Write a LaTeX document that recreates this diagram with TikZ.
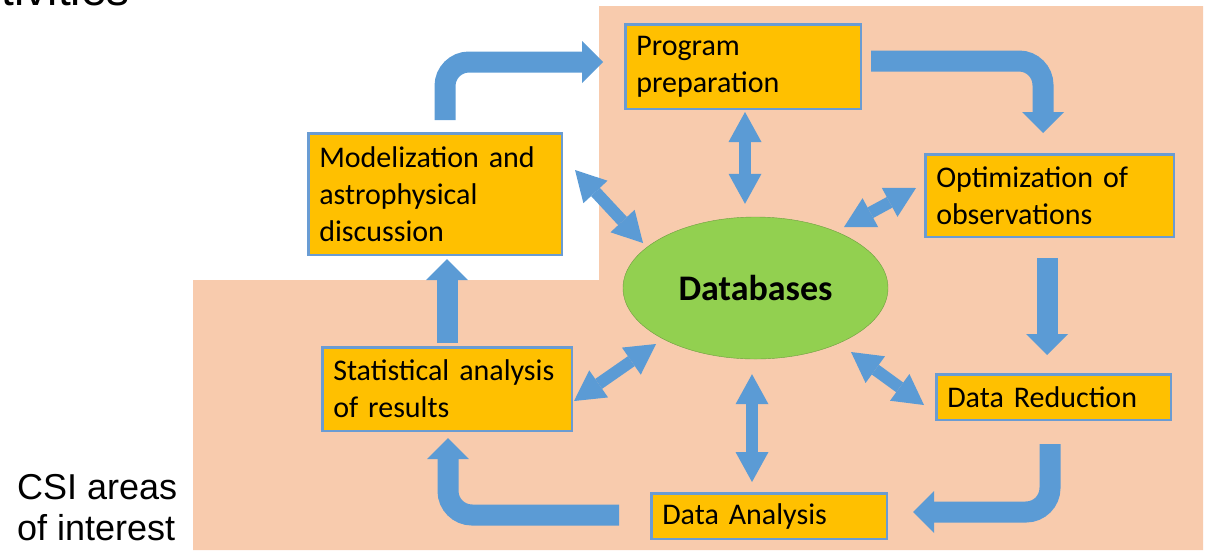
\documentclass[tikz,border=0pt]{standalone}
\usepackage{fontspec}
\setmainfont[WordSpace=0.8]{Carlito}
\newfontfamily\slidefont{Liberation Sans}
\usetikzlibrary{shapes.geometric,arrows.meta,calc}
\definecolor{peach}{HTML}{F8CBAD}
\definecolor{boxgold}{HTML}{FFC000}
\definecolor{boxedge}{HTML}{6A9CD3}
\definecolor{flowblue}{HTML}{5B9BD5}
\definecolor{dbgreen}{HTML}{92D050}
\definecolor{dbedge}{HTML}{6E9E40}
\begin{document}
\begin{tikzpicture}[x=1pt, y=-1pt,
    stagebox/.style={shape=rectangle, draw=boxedge, line width=2.5pt, fill=boxgold,
        inner xsep=11pt, inner ysep=0pt, align=left, font=\fontsize{30}{37}\selectfont},
    flow/.style={draw=flowblue, line width=21pt, rounded corners=24pt,
        -{Triangle[width=42pt,length=21pt,line width=0pt]}},
    link/.style={draw=flowblue, line width=12pt,
        {Triangle[width=33pt,length=30pt,line width=0pt]}-{Triangle[width=33pt,length=30pt,line width=0pt]}}]
    \useasboundingbox (0,0) rectangle (1206,550);
    \clip (0,0) rectangle (1206,550);
    \fill[peach] (599,6) -- (1203,6) -- (1203,550) -- (193,550) -- (193,280) -- (599,280) -- cycle;

    \node[anchor=base east, inner sep=0pt, font=\slidefont\fontsize{46}{52}\selectfont] (title) at (130,5) {activities};
    \node[anchor=north west, inner sep=0pt, align=left, font=\slidefont\fontsize{36}{41}\selectfont] (csi) at (17,474) {CSI areas\\of interest};

    \node[stagebox, text width=213.5pt, minimum height=84.5pt] (prog)  at (743,66.5)   {Program\\preparation};
    \node[stagebox, text width=231.5pt, minimum height=121.5pt] (model) at (435,194)   {Modelization and\\astrophysical\\discussion};
    \node[stagebox, text width=226.5pt, minimum height=82.5pt] (optim) at (1049.5,195.5) {Optimization of\\observations};
    \node[stagebox, text width=227.5pt, minimum height=83.5pt] (stat)  at (447,389)   {Statistical analysis\\of results};
    \node[stagebox, text width=212.5pt, minimum height=45.5pt] (reduc) at (1053.5,397) {Data Reduction};
    \node[stagebox, text width=213.5pt, minimum height=45.5pt] (anal)  at (769,516)   {Data Analysis};
    \node[ellipse, draw=dbedge, fill=dbgreen, minimum width=265pt, minimum height=142pt, inner sep=0pt,
        font=\fontsize{36}{43}\selectfont\bfseries] (db) at (755.5,288) {Databases};

    \draw[flow] ($(model.north)+(10,-12)$) |- ($(prog.west)+(-21,-4.5)$);
    \draw[flow] ($(prog.east)+(9,-5.5)$) -| ($(optim.north)+(-6.5,-20)$);
    \draw[flow] ($(optim.south)+(-2.5,20)$) -- ($(reduc.north)+(-6.5,-18)$);
    \draw[flow] ($(reduc.south)+(-3.5,23)$) |- ($(anal.east)+(25,-4)$);
    \draw[flow] ($(anal.west)+(-31,-1)$) -| ($(stat.south)+(1,6)$);
    \draw[flow] ($(stat.north)+(0,-3)$) -- ($(model.south)+(12,3)$);

    \draw[link] ($(prog.south)+(2,2)$) -- ($(db.north)+(-10.5,-13)$);
    \draw[link] ($(model.east)+(12,-24)$) -- ($(db)+(-112.5,-45)$);
    \draw[link] ($(optim.west)+(-8,-7.5)$) -- ($(db)+(88.5,-61)$);
    \draw[link] ($(stat.east)+(1,12)$) -- ($(db)+(-99.5,56)$);
    \draw[link] ($(reduc.west)+(-11,8)$) -- ($(db)+(95.5,64)$);
    \draw[link] ($(anal.north)+(-17,-10)$) -- ($(db.south)+(-3.5,15)$);
\end{tikzpicture}
\end{document}
